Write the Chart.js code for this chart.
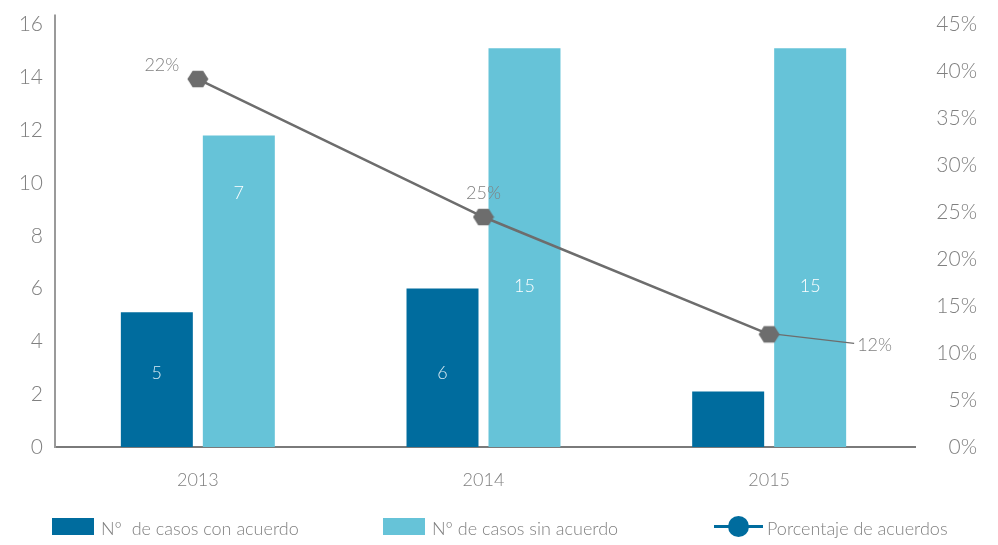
<!DOCTYPE html>
<html>
<head>
<meta charset="utf-8">
<script src="https://cdn.jsdelivr.net/npm/chart.js@4/dist/chart.umd.min.js"></script>
<style>
  body { margin: 0; background: #fff; font-family: Lato, "Open Sans", sans-serif; font-weight: 300; }
  #wrap { position: relative; width: 998px; height: 545px; }
  .box { position: absolute; top: 518px; width: 42px; height: 17px; }
  .txt { position: absolute; top: 517px; font-size: 18px; line-height: 22px; color: #808080; white-space: pre; }
</style>
</head>
<body>
<div id="wrap">
  <canvas id="chart" width="998" height="545"></canvas>
  <span class="box" style="left:52px;background:#006c9e"></span>
  <span class="txt" style="left:101px">Nº  de casos con acuerdo</span>
  <span class="box" style="left:383px;background:#66c3d8"></span>
  <span class="txt" style="left:432px">Nº de casos sin acuerdo</span>
  <span style="position:absolute;left:714px;top:525px;width:49px;height:3px;background:#006c9e"></span>
  <span style="position:absolute;left:728px;top:516px;width:21px;height:21px;border-radius:50%;background:#006c9e"></span>
  <span class="txt" style="left:767px">Porcentaje de acuerdos</span>
</div>
<script>
// data
const years = ['2013', '2014', '2015'];
const conAcuerdo = [5.1, 6.0, 2.1];       // bar heights as drawn
const sinAcuerdo = [11.8, 15.1, 15.1];
const porcentaje = [39.2, 24.5, 12.0];    // line, right axis (%)
const conLabels = ['5', '6', ''];         // labels printed on the bars
const sinLabels = ['7', '15', '15'];
const pctLabels = ['22%', '25%', '12%'];

const DARK = '#006c9e', LIGHT = '#66c3d8', LINE = '#6d6d6d', TEXT = '#808080';
const FONT = 'Lato, "Open Sans", sans-serif';

// hexagon marker
const hex = document.createElement('canvas');
hex.width = 22; hex.height = 20;
(function () {
  const c = hex.getContext('2d');
  c.fillStyle = LINE;
  c.beginPath();
  for (let i = 0; i < 6; i++) {
    const a = Math.PI / 3 * i;
    const px = 11 + 10.5 * Math.cos(a), py = 10 + 9.5 * Math.sin(a);
    i ? c.lineTo(px, py) : c.moveTo(px, py);
  }
  c.closePath();
  c.fill();
})();

const labelPlugin = {
  id: 'labels',
  afterDatasetsDraw(chart) {
    const ctx = chart.ctx;
    const y = chart.scales.y;
    ctx.save();
    ctx.font = '300 18px ' + FONT;
    ctx.textAlign = 'center';
    ctx.textBaseline = 'middle';

    // bar labels, anchored at a value on the left axis
    const conAt = [2.8, 2.8, 0], sinAt = [9.6, 6.1, 6.1];
    chart.getDatasetMeta(0).data.forEach((bar, i) => {
      if (!conLabels[i]) return;
      ctx.fillStyle = 'rgba(225,240,248,0.95)';
      ctx.fillText(conLabels[i], bar.x, y.getPixelForValue(conAt[i]));
    });
    chart.getDatasetMeta(1).data.forEach((bar, i) => {
      ctx.fillStyle = '#ffffff';
      ctx.fillText(sinLabels[i], bar.x, y.getPixelForValue(sinAt[i]));
    });

    // line labels
    const pts = chart.getDatasetMeta(2).data;
    ctx.fillStyle = TEXT;
    ctx.fillText(pctLabels[0], pts[0].x - 36, pts[0].y - 14);
    ctx.fillText(pctLabels[1], pts[1].x, pts[1].y - 24);
    // leader line for the last one
    ctx.strokeStyle = LINE;
    ctx.lineWidth = 1.2;
    ctx.beginPath();
    ctx.moveTo(pts[2].x + 8, pts[2].y);
    ctx.lineTo(pts[2].x + 85, pts[2].y + 9);
    ctx.stroke();
    ctx.textAlign = 'left';
    ctx.fillText(pctLabels[2], pts[2].x + 88, pts[2].y + 11);
    ctx.restore();
  },
  afterDraw(chart) {
    // left axis line runs a little above the top tick
    const ctx = chart.ctx, a = chart.chartArea;
    ctx.save();
    ctx.strokeStyle = '#9a9a9a';
    ctx.lineWidth = 2;
    ctx.beginPath();
    ctx.moveTo(a.left, a.top);
    ctx.lineTo(a.left, a.top - 10);
    ctx.stroke();
    ctx.strokeStyle = '#7a7a7a';
    ctx.beginPath();
    ctx.moveTo(a.right, a.bottom);
    ctx.lineTo(a.right + 4, a.bottom);
    ctx.stroke();
    ctx.restore();
  }
};

new Chart(document.getElementById('chart'), {
  type: 'bar',
  data: {
    labels: years,
    datasets: [
      { label: 'Nº  de casos con acuerdo', data: conAcuerdo, backgroundColor: DARK, yAxisID: 'y', order: 1,
        categoryPercentage: 0.574, barPercentage: 0.878 },
      { label: 'Nº de casos sin acuerdo', data: sinAcuerdo, backgroundColor: LIGHT, yAxisID: 'y', order: 1,
        categoryPercentage: 0.574, barPercentage: 0.878 },
      { type: 'line', label: 'Porcentaje de acuerdos', data: porcentaje, yAxisID: 'y1', order: 0,
        borderColor: LINE, borderWidth: 2.5, pointStyle: hex, pointRadius: 10, pointHoverRadius: 10,
        backgroundColor: LINE }
    ]
  },
  options: {
    responsive: false,
    animation: false,
    events: [],
    layout: { padding: { top: 10, bottom: 38, left: 0, right: 21 } },
    plugins: { legend: { display: false }, tooltip: { enabled: false } },
    scales: {
      x: {
        grid: { display: false, drawTicks: false },
        border: { display: true, color: '#7a7a7a', width: 2 },
        ticks: { color: TEXT, font: { family: FONT, size: 18, weight: 300 }, padding: 22 },
        afterFit(s) { s.height = 60; }
      },
      y: {
        position: 'left', min: 0, max: 16,
        grid: { display: false, drawTicks: false },
        border: { display: true, color: '#9a9a9a', width: 2 },
        ticks: { stepSize: 2, color: TEXT, font: { family: FONT, size: 21, weight: 300 }, padding: 12 },
        afterFit(s) { s.width = 55; }
      },
      y1: {
        position: 'right', min: 0, max: 45,
        grid: { display: false, drawTicks: false },
        border: { display: false },
        ticks: { stepSize: 5, color: TEXT, font: { family: FONT, size: 21, weight: 300 }, padding: 0,
          crossAlign: 'far', callback: v => v + '%' },
        afterFit(s) { s.width = 65; }
      }
    }
  },
  plugins: [labelPlugin]
});
</script>
</body>
</html>
